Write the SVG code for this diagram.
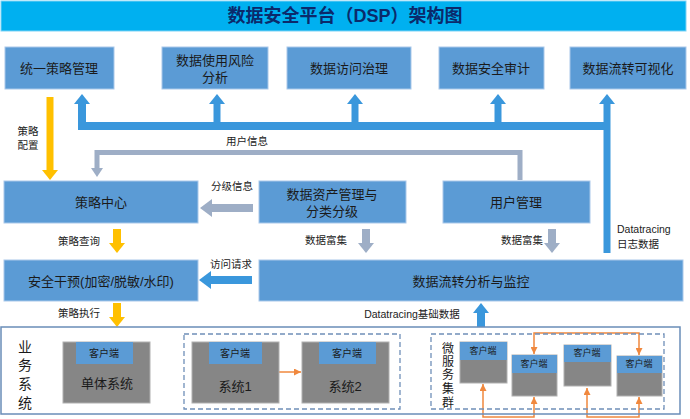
<svg xmlns="http://www.w3.org/2000/svg" width="690" height="419" viewBox="0 0 690 419">
<style>
text{font-family:"Liberation Sans","Noto Sans CJK SC",sans-serif;fill:#1a1a1a;dominant-baseline:central;text-anchor:middle}
.box{fill:#5B9BD5;stroke:#A9C8EA;stroke-width:1}
.bt{font-size:13px}
.lb{font-size:10.5px;fill:#222}
.sys{fill:#868686;stroke:#B0B0B0;stroke-width:1}
.cli{fill:#5B9BD5}
.ct{font-size:10px}
.dash{fill:none;stroke:#6F8FB8;stroke-width:1.3;stroke-dasharray:5,3}
.blue{fill:none;stroke:#3A97DC}
.gray{fill:none;stroke:#9EAEC6}
.yel{fill:none;stroke:#FFC000}
.org{fill:none;stroke:#F0883E;stroke-width:1.5}
</style>
<defs>
<marker id="hBlue" viewBox="0 0 10 10" refX="0" refY="5" markerWidth="10" markerHeight="16" markerUnits="userSpaceOnUse" orient="auto" preserveAspectRatio="none"><path d="M0,0 L10,5 L0,10 z" fill="#3A97DC"/></marker>
<marker id="hBlueL" viewBox="0 0 10 10" refX="0" refY="5" markerWidth="12" markerHeight="18" markerUnits="userSpaceOnUse" orient="auto" preserveAspectRatio="none"><path d="M0,0 L10,5 L0,10 z" fill="#3A97DC"/></marker>
<marker id="hGray" viewBox="0 0 10 10" refX="0" refY="5" markerWidth="10" markerHeight="16" markerUnits="userSpaceOnUse" orient="auto" preserveAspectRatio="none"><path d="M0,0 L10,5 L0,10 z" fill="#9EAEC6"/></marker>
<marker id="hGrayS" viewBox="0 0 10 10" refX="0" refY="5" markerWidth="9" markerHeight="12" markerUnits="userSpaceOnUse" orient="auto" preserveAspectRatio="none"><path d="M0,0 L10,5 L0,10 z" fill="#9EAEC6"/></marker>
<marker id="hGrayL" viewBox="0 0 10 10" refX="0" refY="5" markerWidth="12" markerHeight="18" markerUnits="userSpaceOnUse" orient="auto" preserveAspectRatio="none"><path d="M0,0 L10,5 L0,10 z" fill="#9EAEC6"/></marker>
<marker id="hYel" viewBox="0 0 10 10" refX="0" refY="5" markerWidth="10" markerHeight="16" markerUnits="userSpaceOnUse" orient="auto" preserveAspectRatio="none"><path d="M0,0 L10,5 L0,10 z" fill="#FFC000"/></marker>
<marker id="hOrg" viewBox="0 0 10 10" refX="10" refY="5" markerWidth="7" markerHeight="7" markerUnits="userSpaceOnUse" orient="auto-start-reverse" preserveAspectRatio="none"><path d="M0,0 L10,5 L0,10 z" fill="#F0883E"/></marker>
</defs>

<g id="title">
<rect x="1" y="1" width="685" height="30" fill="#00B0F0" stroke="#7FD3F5" stroke-width="1"/>
<text x="345" y="16" style="font-size:18px;font-weight:bold;fill:#0B2A6B">数据安全平台（DSP）架构图</text>
</g>

<g id="n-policy-mgmt"><rect class="box" x="5" y="47" width="109" height="42"/><text class="bt" x="59" y="68">统一策略管理</text></g>
<g id="n-risk"><rect class="box" x="162" y="47" width="106" height="42"/><text class="bt" x="215" y="60">数据使用风险</text><text class="bt" x="215" y="77">分析</text></g>
<g id="n-access-gov"><rect class="box" x="287" y="47" width="124" height="42"/><text class="bt" x="349" y="68">数据访问治理</text></g>
<g id="n-audit"><rect class="box" x="439" y="47" width="105" height="42"/><text class="bt" x="491" y="68">数据安全审计</text></g>
<g id="n-visual"><rect class="box" x="570" y="47" width="116" height="42"/><text class="bt" x="628" y="68">数据流转可视化</text></g>

<g id="n-policy-center"><rect class="box" x="4" y="181" width="194" height="42"/><text class="bt" x="101" y="202">策略中心</text></g>
<g id="n-asset"><rect class="box" x="259" y="181" width="147" height="42"/><text class="bt" x="332" y="194">数据资产管理与</text><text class="bt" x="332" y="211">分类分级</text></g>
<g id="n-user"><rect class="box" x="443" y="181" width="147" height="42"/><text class="bt" x="516" y="202">用户管理</text></g>

<g id="n-intervene"><rect class="box" x="4" y="260" width="194" height="41"/><text class="bt" x="101" y="281">安全干预(加密/脱敏/水印)</text></g>
<g id="n-flow"><rect class="box" x="259" y="260" width="424" height="41"/><text class="bt" x="471" y="281">数据流转分析与监控</text></g>

<g id="connectors">
<path class="blue" d="M82,104 V126 H607" stroke-width="8"/>
<path class="blue" d="M82,126 V104" stroke-width="7" marker-end="url(#hBlue)"/>
<path class="blue" d="M217,126 V104" stroke-width="7" marker-end="url(#hBlue)"/>
<path class="blue" d="M355,126 V104" stroke-width="7" marker-end="url(#hBlue)"/>
<path class="blue" d="M498,126 V104" stroke-width="7" marker-end="url(#hBlue)"/>
<path class="blue" d="M607,253 V104" stroke-width="7" marker-end="url(#hBlue)"/>
<path class="yel" d="M50,97 V170" stroke-width="7" marker-end="url(#hYel)"/>
<path class="gray" d="M520,180 V152.5 H97 V168" stroke-width="5" marker-end="url(#hGrayS)"/>
<path class="gray" d="M253,208 H212" stroke-width="8" marker-end="url(#hGrayL)"/>
<path class="gray" d="M366,229 V243" stroke-width="8" marker-end="url(#hGray)"/>
<path class="gray" d="M552,229 V243" stroke-width="8" marker-end="url(#hGray)"/>
<path class="yel" d="M117,229 V243" stroke-width="8" marker-end="url(#hYel)"/>
<path class="blue" d="M252,280 H211" stroke-width="8" marker-end="url(#hBlueL)"/>
<path class="yel" d="M117,303 V317" stroke-width="8" marker-end="url(#hYel)"/>
<path class="blue" d="M481,327 V313" stroke-width="8" marker-end="url(#hBlue)"/>
<path class="org" d="M279,372 H301" marker-end="url(#hOrg)"/>
<path class="org" d="M534,354 V333 H639 V355" marker-start="url(#hOrg)" marker-end="url(#hOrg)"/>
<path class="org" d="M483,384 V417 H534 V397" marker-start="url(#hOrg)" marker-end="url(#hOrg)"/>
<path class="org" d="M587,388 V417 H639 V397" marker-start="url(#hOrg)" marker-end="url(#hOrg)"/>
<text class="lb" x="28" y="131">策略</text>
<text class="lb" x="28" y="145">配置</text>
<text class="lb" x="247" y="141">用户信息</text>
<text class="lb" x="232" y="186">分级信息</text>
<text class="lb" x="326" y="240">数据富集</text>
<text class="lb" x="522" y="240">数据富集</text>
<text class="lb" x="79" y="241">策略查询</text>
<text class="lb" x="231" y="264">访问请求</text>
<text class="lb" x="79" y="313">策略执行</text>
<text class="lb" x="412" y="314">Datatracing基础数据</text>
<text class="lb" x="617" y="229" style="text-anchor:start">Datatracing</text>
<text class="lb" x="617" y="244" style="text-anchor:start">日志数据</text>
</g>

<g id="n-business">
<rect x="1" y="327" width="679" height="87" fill="none" stroke="#6A8DB8" stroke-width="1.5"/>
<text x="25" y="347" style="font-size:14px">业</text>
<text x="25" y="365" style="font-size:14px">务</text>
<text x="25" y="384" style="font-size:14px">系</text>
<text x="25" y="403" style="font-size:14px">统</text>
</g>
<g id="n-mono"><rect class="sys" x="63" y="342" width="87" height="61"/><rect class="cli" x="76" y="342" width="57" height="22"/><text class="ct" x="104" y="353">客户端</text><text class="bt" x="107" y="383">单体系统</text></g>
<g id="n-dist"><rect class="dash" x="184" y="334" width="216" height="75"/></g>
<g id="n-sys1"><rect class="sys" x="192" y="342" width="87" height="61"/><rect class="cli" x="209" y="342" width="53" height="22"/><text class="ct" x="235" y="353">客户端</text><text class="bt" x="235" y="386">系统1</text></g>
<g id="n-sys2"><rect class="sys" x="302" y="342" width="87" height="61"/><rect class="cli" x="319" y="342" width="57" height="22"/><text class="ct" x="347" y="353">客户端</text><text class="bt" x="345" y="386">系统2</text></g>
<g id="n-micro"><rect class="dash" x="431" y="334" width="233" height="75"/>
<text x="448" y="349" style="font-size:12px">微</text>
<text x="448" y="362" style="font-size:12px">服</text>
<text x="448" y="375" style="font-size:12px">务</text>
<text x="448" y="389" style="font-size:12px">集</text>
<text x="448" y="403" style="font-size:12px">群</text>
</g>
<g id="n-ms1"><rect class="sys" x="460" y="342" width="47" height="41"/><rect class="cli" x="460" y="342" width="47" height="18"/><text class="ct" x="483" y="351" style="font-size:9px">客户端</text></g>
<g id="n-ms2"><rect class="sys" x="512" y="355" width="45" height="41"/><rect class="cli" x="512" y="355" width="45" height="18"/><text class="ct" x="534" y="364" style="font-size:9px">客户端</text></g>
<g id="n-ms3"><rect class="sys" x="564" y="345" width="47" height="41"/><rect class="cli" x="564" y="345" width="47" height="17"/><text class="ct" x="587" y="353" style="font-size:9px">客户端</text></g>
<g id="n-ms4"><rect class="sys" x="617" y="356" width="45" height="40"/><rect class="cli" x="617" y="356" width="45" height="17"/><text class="ct" x="639" y="364" style="font-size:9px">客户端</text></g>
</svg>
